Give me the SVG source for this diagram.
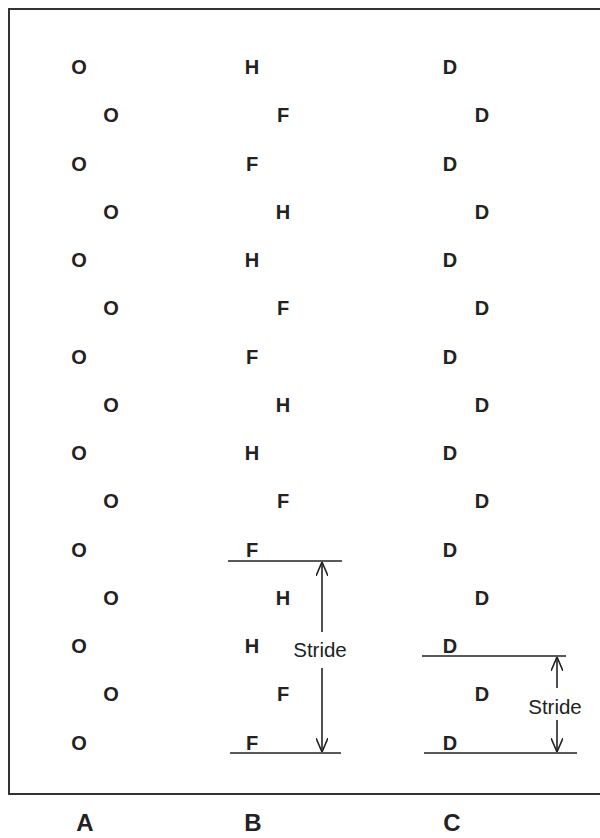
<svg xmlns="http://www.w3.org/2000/svg" width="600" height="838" viewBox="0 0 600 838">
<style>
.l{font-family:"Liberation Sans",Arial,sans-serif;font-weight:bold;font-size:20px;fill:#222;text-anchor:middle}
.cap{font-family:"Liberation Sans",Arial,sans-serif;font-weight:bold;font-size:24px;fill:#222;text-anchor:middle}
.s{font-family:"Liberation Sans",Arial,sans-serif;font-size:20.5px;fill:#222;text-anchor:middle}
.ln{stroke:#222;stroke-width:1.6;fill:none}
</style>
<defs>
<marker id="ah" viewBox="0 0 14 12" refX="14" refY="6" markerWidth="14" markerHeight="12" markerUnits="userSpaceOnUse" orient="auto">
<path d="M0,0 L14,6 L0,12" fill="none" stroke="#222" stroke-width="1.6"/>
</marker>
</defs>
<rect width="600" height="838" fill="#fff"/>
<path d="M600,9 H9 V794 H600" fill="none" stroke="#333" stroke-width="2"/>
<g id="colA">
<text class="l" x="79" y="74">O</text>
<text class="l" x="111" y="122">O</text>
<text class="l" x="79" y="171">O</text>
<text class="l" x="111" y="219">O</text>
<text class="l" x="79" y="267">O</text>
<text class="l" x="111" y="315">O</text>
<text class="l" x="79" y="364">O</text>
<text class="l" x="111" y="412">O</text>
<text class="l" x="79" y="460">O</text>
<text class="l" x="111" y="508">O</text>
<text class="l" x="79" y="557">O</text>
<text class="l" x="111" y="605">O</text>
<text class="l" x="79" y="653">O</text>
<text class="l" x="111" y="701">O</text>
<text class="l" x="79" y="750">O</text>
</g>
<g id="colB">
<text class="l" x="252" y="74">H</text>
<text class="l" x="283" y="122">F</text>
<text class="l" x="252" y="171">F</text>
<text class="l" x="283" y="219">H</text>
<text class="l" x="252" y="267">H</text>
<text class="l" x="283" y="315">F</text>
<text class="l" x="252" y="364">F</text>
<text class="l" x="283" y="412">H</text>
<text class="l" x="252" y="460">H</text>
<text class="l" x="283" y="508">F</text>
<text class="l" x="252" y="557">F</text>
<text class="l" x="283" y="605">H</text>
<text class="l" x="252" y="653">H</text>
<text class="l" x="283" y="701">F</text>
<text class="l" x="252" y="750">F</text>
</g>
<g id="colC">
<text class="l" x="450" y="74">D</text>
<text class="l" x="482" y="122">D</text>
<text class="l" x="450" y="171">D</text>
<text class="l" x="482" y="219">D</text>
<text class="l" x="450" y="267">D</text>
<text class="l" x="482" y="315">D</text>
<text class="l" x="450" y="364">D</text>
<text class="l" x="482" y="412">D</text>
<text class="l" x="450" y="460">D</text>
<text class="l" x="482" y="508">D</text>
<text class="l" x="450" y="557">D</text>
<text class="l" x="482" y="605">D</text>
<text class="l" x="450" y="653">D</text>
<text class="l" x="482" y="701">D</text>
<text class="l" x="450" y="750">D</text>
</g>
<g id="connectors">
<line class="ln" x1="228" y1="561" x2="342" y2="561"/>
<line class="ln" x1="230" y1="753" x2="341" y2="753"/>
<line class="ln" x1="322" y1="632" x2="322" y2="562" marker-end="url(#ah)"/>
<line class="ln" x1="322" y1="668" x2="322" y2="752" marker-end="url(#ah)"/>
<line class="ln" x1="422" y1="656" x2="566" y2="656"/>
<line class="ln" x1="424" y1="753" x2="577" y2="753"/>
<line class="ln" x1="557" y1="688" x2="557" y2="657" marker-end="url(#ah)"/>
<line class="ln" x1="557" y1="720" x2="557" y2="752" marker-end="url(#ah)"/>
</g>
<g id="strideB"><text class="s" x="320" y="657">Stride</text></g>
<g id="strideC"><text class="s" x="555" y="714">Stride</text></g>
<g id="labels">
<text class="cap" x="85" y="831">A</text>
<text class="cap" x="253" y="831">B</text>
<text class="cap" x="452" y="831">C</text>
</g>
</svg>
